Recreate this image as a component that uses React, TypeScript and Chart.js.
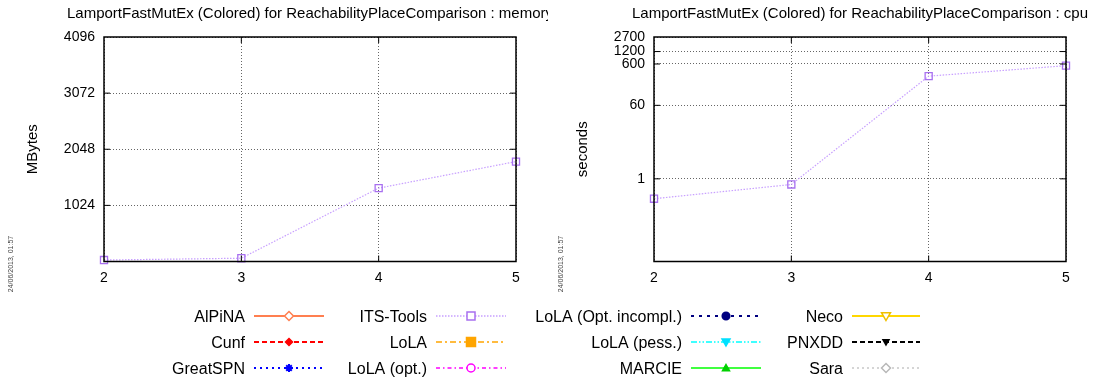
import React, { useEffect, useRef } from 'react';
import { Chart, registerables } from 'chart.js';

Chart.register(...registerables);

// ---------- data ----------
const xValues = [2, 3, 4, 5];
const toolNames = [
  'AlPiNA', 'Cunf', 'GreatSPN',
  'ITS-Tools', 'LoLA', 'LoLA (opt.)',
  'LoLA (Opt. incompl.)', 'LoLA (pess.)', 'MARCIE',
  'Neco', 'PNXDD', 'Sara',
];
const itsToolsMemory = [27, 60, 1339, 1823];
const itsToolsCpu = [0.33, 0.73, 305, 547];
const memoryTicks = [0, 1024, 2048, 3072, 4096];
const cpuTicks = [1, 60, 600, 1200, 2700];
const memoryTitle = 'LamportFastMutEx (Colored) for ReachabilityPlaceComparison : memory';
const cpuTitle = 'LamportFastMutEx (Colored) for ReachabilityPlaceComparison : cpu';
const memoryAxisTitle = 'MBytes';
const cpuAxisTitle = 'seconds';
const dateStamp = '24/06/2013, 01:57';

const memorySeries: Record<string, number[]> = { 'ITS-Tools': itsToolsMemory };
const cpuSeries: Record<string, number[]> = { 'ITS-Tools': itsToolsCpu };

// ---------- styles ----------
type Marker = 'diamond' | 'square' | 'circle' | 'triUp' | 'triDown' | 'star';
type Style = {
  color: string; markerColor: string; dash: number[]; marker: Marker; filled: boolean; size: number; width: number;
};
const toolStyles: Style[] = [
  { color: '#ff7f50', markerColor: '#ff7f50', dash: [], marker: 'diamond', filled: false, size: 4.5, width: 2 },
  { color: '#ff0000', markerColor: '#ff0000', dash: [5, 3], marker: 'diamond', filled: true, size: 3.5, width: 2 },
  { color: '#0000ff', markerColor: '#0000ff', dash: [2, 4], marker: 'star', filled: true, size: 4, width: 2 },
  { color: '#c8a0ff', markerColor: '#a870f0', dash: [1.5, 1.5], marker: 'square', filled: false, size: 4, width: 1.6 },
  { color: '#ffa500', markerColor: '#ffa500', dash: [6, 3, 2, 3], marker: 'square', filled: true, size: 4.5, width: 1.6 },
  { color: '#ff00ff', markerColor: '#ff00ff', dash: [4, 3, 1.5, 3], marker: 'circle', filled: false, size: 4, width: 1.6 },
  { color: '#000080', markerColor: '#000080', dash: [3, 5], marker: 'circle', filled: true, size: 3.8, width: 2 },
  { color: '#00ffff', markerColor: '#00e0ff', dash: [6, 2, 1.5, 2, 1.5, 2], marker: 'triDown', filled: true, size: 4, width: 1.6 },
  { color: '#00ff00', markerColor: '#00d000', dash: [], marker: 'triUp', filled: true, size: 3.5, width: 1.6 },
  { color: '#ffd700', markerColor: '#f0c000', dash: [], marker: 'triDown', filled: false, size: 4.5, width: 2 },
  { color: '#000000', markerColor: '#000000', dash: [5, 3], marker: 'triDown', filled: true, size: 3, width: 2 },
  { color: '#c8c8c8', markerColor: '#b8b8b8', dash: [2, 3], marker: 'diamond', filled: false, size: 4.5, width: 1.6 },
];

const FONT = '"Liberation Sans", Arial, Helvetica, sans-serif';
const GRID = 'rgba(0,0,0,0.6)';

// legend layout (column text right edge, line sample start/end), row centres
const legendCols = [
  { textRight: 245, lineStart: 254, lineEnd: 324 },
  { textRight: 427, lineStart: 436, lineEnd: 506 },
  { textRight: 682, lineStart: 691, lineEnd: 761 },
  { textRight: 843, lineStart: 852, lineEnd: 920 },
];
const legendRows = [316, 342, 368];

function drawMarker(ctx: CanvasRenderingContext2D, st: Style, x: number, y: number) {
  const s = st.size;
  ctx.save();
  ctx.setLineDash([]);
  ctx.lineWidth = 1.5;
  ctx.strokeStyle = st.markerColor;
  ctx.fillStyle = st.filled ? st.markerColor : '#ffffff';
  ctx.beginPath();
  switch (st.marker) {
    case 'diamond':
      ctx.moveTo(x, y - s); ctx.lineTo(x + s, y); ctx.lineTo(x, y + s); ctx.lineTo(x - s, y); ctx.closePath();
      break;
    case 'square':
      ctx.rect(x - s, y - s, 2 * s, 2 * s);
      break;
    case 'circle':
      ctx.arc(x, y, s, 0, Math.PI * 2);
      break;
    case 'triUp':
      ctx.moveTo(x, y - s); ctx.lineTo(x + s, y + s * 0.75); ctx.lineTo(x - s, y + s * 0.75); ctx.closePath();
      break;
    case 'triDown':
      ctx.moveTo(x, y + s); ctx.lineTo(x + s, y - s * 0.75); ctx.lineTo(x - s, y - s * 0.75); ctx.closePath();
      break;
    case 'star':
      ctx.moveTo(x - s, y); ctx.lineTo(x + s, y);
      ctx.moveTo(x, y - s); ctx.lineTo(x, y + s);
      ctx.moveTo(x - s * 0.7, y - s * 0.7); ctx.lineTo(x + s * 0.7, y + s * 0.7);
      ctx.moveTo(x - s * 0.7, y + s * 0.7); ctx.lineTo(x + s * 0.7, y - s * 0.7);
      ctx.lineWidth = 2;
      ctx.stroke();
      ctx.restore();
      return;
  }
  ctx.fill();
  ctx.stroke();
  ctx.restore();
}

const pointStyleOf: Record<Marker, string> = {
  diamond: 'rectRot', square: 'rect', circle: 'circle', triUp: 'triangle', triDown: 'triangle', star: 'star',
};

function buildDatasets(series: Record<string, number[]>) {
  return toolNames.map((name, i) => {
    const st = toolStyles[i];
    const vals = series[name] || [];
    return {
      label: name,
      data: vals.map((v, j) => ({ x: xValues[j], y: v })),
      borderColor: st.color,
      backgroundColor: st.color,
      borderWidth: 1.2,
      borderDash: st.dash,
      pointStyle: pointStyleOf[st.marker],
      pointRotation: st.marker === 'triDown' ? 180 : 0,
      pointRadius: 5,
      pointBorderWidth: 1.3,
      pointBorderColor: st.markerColor,
      pointBackgroundColor: st.filled ? st.markerColor : 'rgba(255,255,255,0)',
      fill: false,
      tension: 0,
      clip: false,
    };
  });
}

const framePlugin = {
  id: 'frame',
  beforeDraw(chart: any, _args: any, opts: any) {
    if (opts.background) {
      const ctx = chart.ctx;
      ctx.save();
      ctx.fillStyle = '#ffffff';
      ctx.fillRect(0, 0, chart.width, chart.height);
      ctx.restore();
    }
  },
  afterDraw(chart: any, _args: any, opts: any) {
    const ctx: CanvasRenderingContext2D = chart.ctx;
    const { left, right, top, bottom } = chart.chartArea;
    const xs = chart.scales.x;
    const ys = chart.scales.y;
    ctx.save();
    // inward tick marks
    ctx.strokeStyle = '#000';
    ctx.lineWidth = 1;
    ctx.setLineDash([]);
    ctx.beginPath();
    ys.ticks.forEach((t: any) => {
      const py = ys.getPixelForValue(t.value);
      if (py > top + 1 && py < bottom - 1) {
        ctx.moveTo(left, py); ctx.lineTo(left + 6, py);
        ctx.moveTo(right, py); ctx.lineTo(right - 6, py);
      }
    });
    xs.ticks.forEach((t: any) => {
      const px = xs.getPixelForValue(t.value);
      if (px > left + 1 && px < right - 1) {
        ctx.moveTo(px, bottom); ctx.lineTo(px, bottom - 6);
        ctx.moveTo(px, top); ctx.lineTo(px, top + 6);
      }
    });
    ctx.stroke();
    // frame
    ctx.lineWidth = 1.5;
    ctx.strokeRect(left, top, right - left, bottom - top);

    // title (clipped to the panel width)
    ctx.save();
    ctx.beginPath();
    ctx.rect(0, 0, opts.clipWidth, 40);
    ctx.clip();
    ctx.fillStyle = '#000';
    ctx.font = `15px ${FONT}`;
    ctx.textAlign = 'center';
    ctx.textBaseline = 'alphabetic';
    ctx.fillText(opts.title, opts.titleX, 17.5);
    ctx.restore();

    // date stamp
    ctx.save();
    ctx.fillStyle = '#444';
    ctx.font = `7px ${FONT}`;
    ctx.textAlign = 'center';
    ctx.textBaseline = 'middle';
    ctx.translate(opts.dateX, 264);
    ctx.rotate(-Math.PI / 2);
    ctx.fillText(dateStamp, 0, 0);
    ctx.restore();

    // legend
    if (opts.legend) {
      toolNames.forEach((name, i) => {
        const col = legendCols[Math.floor(i / 3)];
        const y = legendRows[i % 3];
        const st = toolStyles[i];
        ctx.save();
        ctx.fillStyle = '#000';
        ctx.font = `16px ${FONT}`;
        ctx.textAlign = 'right';
        ctx.textBaseline = 'alphabetic';
        ctx.fillText(name, col.textRight, y + 5.8);
        ctx.strokeStyle = st.color;
        ctx.lineWidth = st.width;
        ctx.setLineDash(st.dash);
        ctx.beginPath();
        ctx.moveTo(col.lineStart, y);
        ctx.lineTo(col.lineEnd, y);
        ctx.stroke();
        ctx.restore();
        drawMarker(ctx, st, (col.lineStart + col.lineEnd) / 2, y);
      });
    }
    ctx.restore();
  },
};

function makeConfig(kind: 'memory' | 'cpu', canvasW: number, canvasH: number): any {
  const isMem = kind === 'memory';
  const axisFont = { family: FONT, size: 14 };
  const yScale: any = isMem
    ? { type: 'linear', min: 0, max: 4096 }
    : { type: 'logarithmic', min: 0.01, max: 2700 };
  const yTicks = isMem ? memoryTicks : cpuTicks;
  return {
    type: 'line',
    data: { datasets: buildDatasets(isMem ? memorySeries : cpuSeries) },
    plugins: [framePlugin],
    options: {
      animation: false,
      responsive: false,
      devicePixelRatio: 1,
      layout: { padding: { left: 0, top: 37, right: canvasW - 516, bottom: canvasH - 261.5 - 30 } },
      plugins: {
        legend: { display: false },
        title: { display: false },
        tooltip: { enabled: false },
        frame: {
          background: isMem,
          legend: isMem,
          title: isMem ? memoryTitle : cpuTitle,
          titleX: 310,
          clipWidth: 548,
          dateX: 11,
        },
      },
      scales: {
        x: {
          type: 'linear',
          min: 2,
          max: 5,
          afterBuildTicks: (s: any) => { s.ticks = xValues.map((v) => ({ value: v })); },
          afterFit: (s: any) => { s.height = 30; },
          ticks: { font: axisFont, color: '#000', padding: 8, callback: (v: any) => String(v) },
          grid: { color: GRID, lineWidth: 1, drawTicks: false },
          border: { display: false, dash: [1, 2] },
        },
        y: {
          ...yScale,
          afterBuildTicks: (s: any) => { s.ticks = yTicks.map((v) => ({ value: v })); },
          afterFit: (s: any) => { s.width = 104; },
          ticks: {
            font: axisFont,
            color: '#000',
            padding: 9,
            callback: (v: any) => (v === 0 ? '' : String(v)),
          },
          grid: { color: GRID, lineWidth: 1, drawTicks: false },
          border: { display: false, dash: [1, 2] },
          title: {
            display: true,
            text: isMem ? memoryAxisTitle : cpuAxisTitle,
            font: { family: FONT, size: 15 },
            color: '#000',
            padding: { top: 24, bottom: 0 },
          },
        },
      },
    },
  };
}

export default function App() {
  const leftRef = useRef<HTMLCanvasElement>(null);
  const rightRef = useRef<HTMLCanvasElement>(null);
  useEffect(() => {
    document.body.style.margin = '0';
    const c1 = new Chart(leftRef.current as HTMLCanvasElement, makeConfig('memory', 1096, 383));
    const c2 = new Chart(rightRef.current as HTMLCanvasElement, makeConfig('cpu', 546, 300));
    return () => {
      c1.destroy();
      c2.destroy();
    };
  }, []);
  return (
    <div style={{ position: 'relative', width: 1096, height: 383, background: '#fff' }}>
      <canvas
        ref={leftRef}
        width={1096}
        height={383}
        style={{ position: 'absolute', left: 0, top: 0, width: 1096, height: 383 }}
      />
      <canvas
        ref={rightRef}
        width={546}
        height={300}
        style={{ position: 'absolute', left: 550, top: 0, width: 546, height: 300 }}
      />
    </div>
  );
}
